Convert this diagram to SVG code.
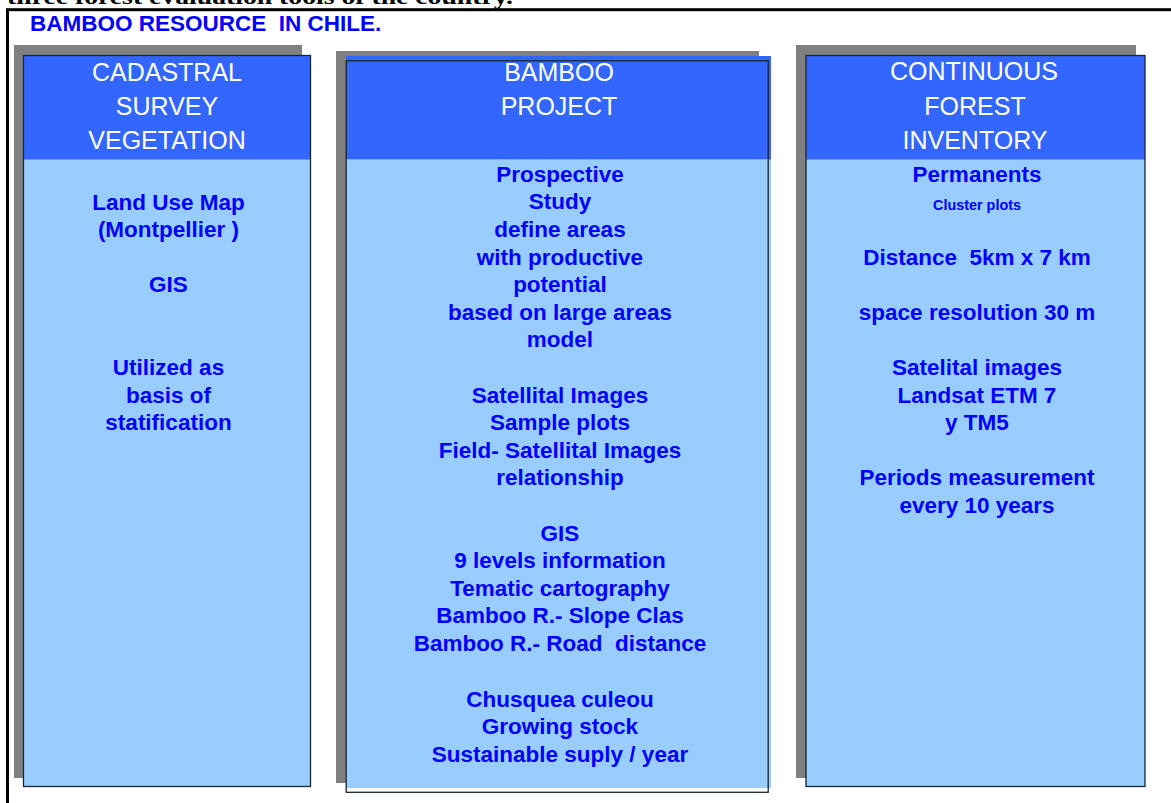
<svg xmlns="http://www.w3.org/2000/svg" width="1171" height="803" viewBox="0 0 1171 803">
<style>
.shadow{fill:#808080}
.hdr{fill:#3366FF}
.body{fill:#99CCFF}
.outline{fill:none;stroke:#1c2433;stroke-width:1.3}
.ht{font-family:"Liberation Sans",Arial,sans-serif;font-size:25px;fill:#FFFFFF;text-anchor:middle}
.bt{font-family:"Liberation Sans",Arial,sans-serif;font-size:22.5px;font-weight:bold;fill:#0000FF;text-anchor:middle;white-space:pre}
.st{font-family:"Liberation Sans",Arial,sans-serif;font-size:14.4px;font-weight:bold;fill:#0000FF;text-anchor:middle}
</style>
<rect x="0" y="0" width="1171" height="803" fill="#FFFFFF"/>
<text x="7" y="3.5" font-family="'Liberation Serif','Times New Roman',serif" font-weight="bold" font-size="22" textLength="506" lengthAdjust="spacingAndGlyphs">three forest evaluation tools of the country.</text>
<rect x="7.5" y="9.7" width="1200" height="900" fill="#FFFFFF" stroke="#000000" stroke-width="3"/>
<text x="30" y="30.7" font-family="'Liberation Sans',Arial,sans-serif" font-size="22.5" font-weight="bold" fill="#0000FF" style="white-space:pre">BAMBOO RESOURCE  IN CHILE.</text>

<g id="cadastral">
<rect class="shadow" x="14" y="45" width="288" height="733"/>
<rect class="body" x="23.5" y="55.5" width="287" height="731"/>
<rect class="hdr" x="23.5" y="55.5" width="287" height="104"/>
<rect class="outline" x="23.5" y="55.5" width="287" height="731"/>
<text class="ht" x="167" y="80.7">CADASTRAL</text>
<text class="ht" x="167" y="115">SURVEY</text>
<text class="ht" x="167" y="149.3">VEGETATION</text>
<text class="bt" x="168.5" y="209.5">Land Use Map</text>
<text class="bt" x="168.5" y="236.7">(Montpellier )</text>
<text class="bt" x="168.5" y="291.7">GIS</text>
<text class="bt" x="168.5" y="375">Utilized as</text>
<text class="bt" x="168.5" y="402.5">basis of</text>
<text class="bt" x="168.5" y="430">statification</text>
</g>

<g id="bamboo-project">
<rect class="shadow" x="336" y="51" width="423" height="732"/>
<rect class="body" x="346" y="56" width="425" height="732"/>
<rect class="hdr" x="346" y="56" width="425" height="103.3"/>
<rect class="outline" x="346.2" y="60.8" width="422" height="731.5"/>
<text class="ht" x="559" y="80.7">BAMBOO</text>
<text class="ht" x="559" y="115">PROJECT</text>
<text class="bt" x="560" y="181.7">Prospective</text>
<text class="bt" x="560" y="209.3">Study</text>
<text class="bt" x="560" y="236.9">define areas</text>
<text class="bt" x="560" y="264.5">with productive</text>
<text class="bt" x="560" y="292.1">potential</text>
<text class="bt" x="560" y="319.7">based on large areas</text>
<text class="bt" x="560" y="347.3">model</text>
<text class="bt" x="560" y="402.5">Satellital Images</text>
<text class="bt" x="560" y="430.1">Sample plots</text>
<text class="bt" x="560" y="457.7">Field- Satellital Images</text>
<text class="bt" x="560" y="485.3">relationship</text>
<text class="bt" x="560" y="541">GIS</text>
<text class="bt" x="560" y="568.4">9 levels information</text>
<text class="bt" x="560" y="596">Tematic cartography</text>
<text class="bt" x="560" y="623.4">Bamboo R.- Slope Clas</text>
<text class="bt" x="560" y="650.5">Bamboo R.- Road  distance</text>
<text class="bt" x="560" y="706.6">Chusquea culeou</text>
<text class="bt" x="560" y="734.4">Growing stock</text>
<text class="bt" x="560" y="762.2">Sustainable suply / year</text>
</g>

<g id="continuous-forest-inventory">
<rect class="shadow" x="796" y="45" width="340" height="733"/>
<rect class="body" x="806" y="55.5" width="339" height="731"/>
<rect class="hdr" x="806" y="55.5" width="339" height="104"/>
<rect class="outline" x="806" y="55.5" width="339" height="731"/>
<text class="ht" x="974" y="79.8">CONTINUOUS</text>
<text class="ht" x="975" y="115">FOREST</text>
<text class="ht" x="975" y="149.3">INVENTORY</text>
<text class="bt" x="977" y="181.7">Permanents</text>
<text class="st" x="977" y="210">Cluster plots</text>
<text class="bt" x="977" y="264.5">Distance  5km x 7 km</text>
<text class="bt" x="977" y="319.7">space resolution 30 m</text>
<text class="bt" x="977" y="375">Satelital images</text>
<text class="bt" x="977" y="402.5">Landsat ETM 7</text>
<text class="bt" x="977" y="430.1">y TM5</text>
<text class="bt" x="977" y="485.3">Periods measurement</text>
<text class="bt" x="977" y="512.9">every 10 years</text>
</g>

<g id="connectors"></g>
</svg>
